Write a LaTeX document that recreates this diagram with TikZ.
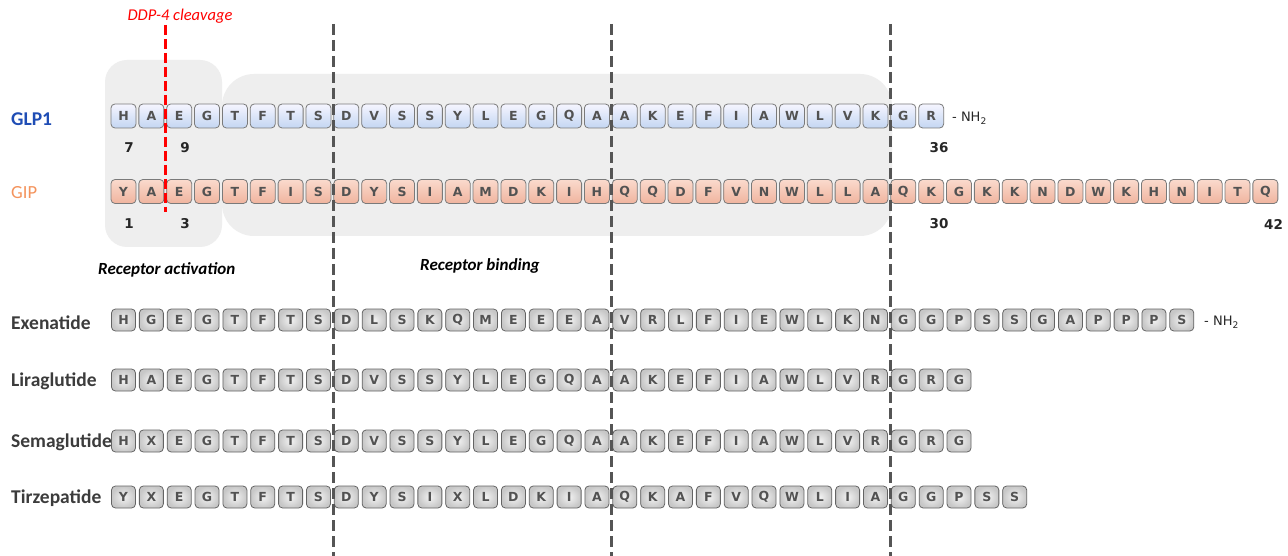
\documentclass[tikz,border=0pt]{standalone}
\usepackage{fontspec}
\setmainfont{Carlito}
\newfontfamily\dv{DejaVu Sans}
\usetikzlibrary{calc}
\definecolor{glpblue}{HTML}{1F4DB5}
\definecolor{giporange}{HTML}{F4935C}
\definecolor{bggray}{HTML}{EEEEEE}
\definecolor{cutgray}{HTML}{555555}
\definecolor{lblgray}{HTML}{3C3C3C}
\definecolor{boxline}{HTML}{7A7A7A}
\newcommand\peprow[4]{\foreach \l [count=\i] in {#4} {\node[#2] (#1-\i) at ({123.5+(\i-1)*27.85},#3) {\l};}}
\begin{document}
\begin{tikzpicture}[x=1pt,y=-1pt,
  aa/.style={rounded corners=4pt, draw=boxline, line width=0.8pt, inner sep=0pt,
     font=\dv\bfseries\fontsize{12.5}{15}\selectfont, text=black!68},
  glpbox/.style={aa, minimum width=25pt, minimum height=24pt, top color=blue!4!white, bottom color={rgb,255:red,196;green,214;blue,242}},
  gipbox/.style={aa, minimum width=25pt, minimum height=24pt, top color={rgb,255:red,250;green,218;blue,205}, bottom color={rgb,255:red,240;green,180;blue,158}},
  drugbox/.style={aa, draw={rgb,255:red,100;green,100;blue,100}, minimum width=24pt, minimum height=22pt, inner color=white!95!black, outer color=black!22},
  lbl/.style={inner sep=0pt, anchor=west, font=\bfseries\fontsize{19.5}{21}\selectfont, text=lblgray},
  num/.style={inner sep=0pt, font=\dv\bfseries\fontsize{13.5}{15}\selectfont, text=black!85},
  nh/.style={inner sep=0pt, anchor=west, font=\dv\fontsize{13}{15}\selectfont, text=black!85},
  region/.style={inner sep=0pt, anchor=west, font=\bfseries\itshape\fontsize{17}{19}\selectfont},
  cutline/.style={cutgray, line width=3pt, dash pattern=on 11pt off 5pt},
  ddpline/.style={red, line width=3.5pt, dash pattern=on 10pt off 4pt}]
\useasboundingbox (0,0) rectangle (1288,556);
\fill[white] (0,0) rectangle (1288,556);
% background regions
\fill[bggray, rounded corners=22pt] (105,60) rectangle (222,247);
\fill[bggray, rounded corners=32pt] (222,74) rectangle (892,236);
% labels
\node[lbl, text=glpblue] (lglp) at (11,119) {GLP1};
\node[lbl, text=giporange, font=\fontsize{18.5}{20}\selectfont] (lgip) at (11,193) {GIP};
\node[lbl] (lexe) at (11,323) {Exenatide};
\node[lbl] (llira) at (11,381) {Liraglutide};
\node[lbl] (lsema) at (11,442) {Semaglutide};
\node[lbl] (ltirz) at (11,498) {Tirzepatide};
% rows
\peprow{glp}{glpbox}{116}{H,A,E,G,T,F,T,S,D,V,S,S,Y,L,E,G,Q,A,A,K,E,F,I,A,W,L,V,K,G,R}
\peprow{gip}{gipbox}{191.5}{Y,A,E,G,T,F,I,S,D,Y,S,I,A,M,D,K,I,H,Q,Q,D,F,V,N,W,L,L,A,Q,K,G,K,K,N,D,W,K,H,N,I,T,Q}
\peprow{exe}{drugbox}{320}{H,G,E,G,T,F,T,S,D,L,S,K,Q,M,E,E,E,A,V,R,L,F,I,E,W,L,K,N,G,G,P,S,S,G,A,P,P,P,S}
\peprow{lira}{drugbox}{380}{H,A,E,G,T,F,T,S,D,V,S,S,Y,L,E,G,Q,A,A,K,E,F,I,A,W,L,V,R,G,R,G}
\peprow{sema}{drugbox}{441}{H,X,E,G,T,F,T,S,D,V,S,S,Y,L,E,G,Q,A,A,K,E,F,I,A,W,L,V,R,G,R,G}
\peprow{tirz}{drugbox}{497}{Y,X,E,G,T,F,T,S,D,Y,S,I,X,L,D,K,I,A,Q,K,A,F,V,Q,W,L,I,A,G,G,P,S,S}
% amide ends
\node[nh] (nhglp) at (952,118) {- NH\textsubscript{2}};
\node[nh] (nhexe) at (1204,322) {- NH\textsubscript{2}};
% numbering
\node[num] (n7) at (129,147.5) {7};
\node[num] (n9) at (185,147.5) {9};
\node[num] (n36) at (939,147.5) {36};
\node[num] (n1) at (129,224) {1};
\node[num] (n3) at (185,224) {3};
\node[num] (n30) at (939,224) {30};
\node[num, anchor=west] (n42) at (1264,224) {42};
% region labels
\node[region] (ract) at (98,270) {Receptor activation};
\node[region] (rbind) at (420,266) {Receptor binding};
% cut lines
\coordinate (c1t) at (333,24); \coordinate (c1b) at (333,556);
\coordinate (c2t) at (611.5,24); \coordinate (c2b) at (611.5,556);
\coordinate (c3t) at (890,24); \coordinate (c3b) at (890,556);
\draw[cutline] (c1t) -- (c1b);
\draw[cutline] (c2t) -- (c2b);
\draw[cutline] (c3t) -- (c3b);
\coordinate (ddpt) at (165.5,25); \coordinate (ddpb) at (165.5,212);
\draw[ddpline] (ddpt) -- (ddpb);
\node[inner sep=0pt, text=red, font=\itshape\fontsize{16.5}{18}\selectfont] (ddp) at (180,16) {DDP-4 cleavage};
\end{tikzpicture}
\end{document}
